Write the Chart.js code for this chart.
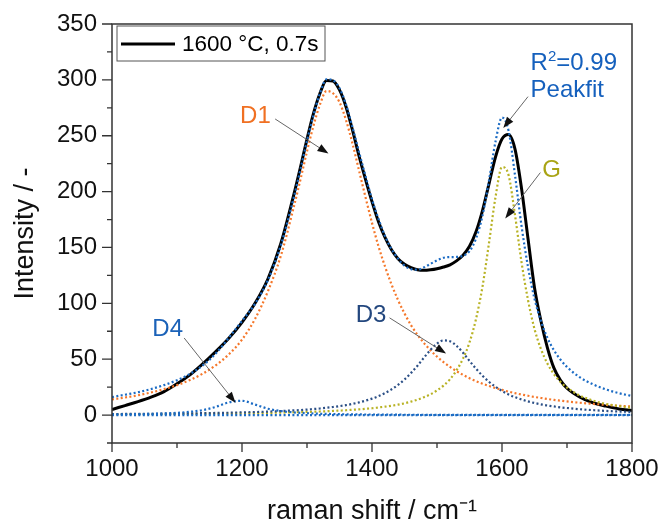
<!DOCTYPE html>
<html>
<head>
<meta charset="utf-8">
<title>Raman spectrum peak fit</title>
<script src="https://cdn.jsdelivr.net/npm/chart.js@4.4.1/dist/chart.umd.min.js"></script>
<style>
  html, body { margin: 0; padding: 0; background: #fff; }
  #chart { display: block; }
</style>
</head>
<body>
<canvas id="chart" width="662" height="525"></canvas>
<script>
// raman shift positions (cm-1)
const ramanShift = [
  1000, 1020, 1040, 1060, 1080, 1100, 1120, 1140, 1160, 1180, 1200, 1220, 1240, 1260, 1280,
  1290, 1300, 1310, 1320, 1330, 1340, 1350, 1360, 1370, 1380, 1390, 1400, 1410, 1420, 1430,
  1440, 1450, 1460, 1470, 1480, 1490, 1500, 1510, 1520, 1530, 1540, 1550, 1560, 1570, 1580,
  1590, 1600, 1610, 1620, 1630, 1640, 1650, 1660, 1670, 1680, 1690, 1700,
  1720, 1740, 1760, 1780, 1800
];

// measured spectrum, 1600 °C, 0.7s
const measured = [
  5, 8.5, 12, 16, 21, 28, 36, 46, 57, 69, 83, 100, 122, 154, 198,
  222, 247, 270, 288, 299.5, 299, 291, 276, 255, 232, 211, 191, 173, 159, 148,
  140, 135, 132, 130, 129.5, 130, 131, 132.5, 134.5, 138, 143, 151, 164, 183, 207,
  231, 247, 251, 238, 203, 158, 114, 84, 60, 42, 31, 24,
  16, 11, 8, 5.5, 4
];

// sum of fitted bands
const peakFit = [
  16.1, 18.2, 20.4, 23.3, 26.8, 31.2, 36.9, 44.6, 55.3, 69.4, 84.3, 99.5, 121, 152.5, 195.5,
  220, 245.5, 268.5, 288, 300.5, 299.5, 292.5, 278, 257.5, 235.5, 214, 193, 175.5, 160.2, 148.6,
  140, 133.8, 130.6, 130.1, 132.2, 135.3, 138.5, 140.8, 141.4, 141.5, 142.5, 146.7, 158, 178.5, 210,
  244.7, 266.3, 254.7, 214.7, 169.5, 132.6, 104.1, 84, 69, 57.9, 49.6, 43.1,
  33.7, 27.5, 22.9, 19.6, 17
];

const bandD1 = [
  14, 15.7, 17.7, 20.2, 23.2, 26.8, 31.4, 37.2, 44.7, 54.5, 67.5, 86, 111, 143, 187,
  211, 236, 259, 278, 290, 288, 280, 264, 243, 219, 195, 172, 151, 133, 117,
  103, 91, 80.5, 71.8, 64.4, 58, 52.3, 47.4, 43.1, 39.3, 36, 33, 30.4, 28.1, 26,
  24.2, 22.5, 21, 19.6, 18.4, 17.3, 16.2, 15.3, 14.4, 13.6, 12.9, 12.2,
  11, 10, 9.1, 8.3, 7.6
];

const bandD3 = [
  0.9, 1, 1.05, 1.15, 1.25, 1.4, 1.5, 1.7, 1.9, 2.1, 2.4, 2.7, 3.1, 3.6, 4.2,
  4.5, 4.9, 5.4, 5.9, 6.5, 7.2, 8, 8.9, 10, 11.3, 12.9, 14.7, 17, 19.7, 23,
  27, 31.9, 37.6, 44.2, 51.4, 58.4, 64, 66.8, 66.1, 62, 55.8, 48.5, 41.5, 35.2, 29.8,
  25.3, 21.6, 18.5, 16, 14, 12.2, 10.8, 9.6, 8.5, 7.7, 6.9, 6.3,
  5.2, 4.4, 3.7, 3.2, 2.8
];

const bandD4 = [
  0.5, 0.7, 0.8, 1.1, 1.4, 2, 2.9, 4.5, 7.4, 11.4, 12.8, 9.4, 5.7, 3.6, 2.4,
  2, 1.7, 1.4, 1.2, 1.05, 0.9, 0.8, 0.7, 0.65, 0.6, 0.5, 0.5, 0.45, 0.4, 0.4,
  0.35, 0.3, 0.3, 0.3, 0.25, 0.25, 0.2, 0.2, 0.2, 0.2, 0.2, 0.2, 0.15, 0.15, 0.15,
  0.15, 0.15, 0.1, 0.1, 0.1, 0.1, 0.1, 0.1, 0.1, 0.1, 0.1, 0.1,
  0.1, 0.1, 0.1, 0.1, 0.1
];

const bandG = [
  0.7, 0.76, 0.8, 0.87, 0.94, 1, 1.1, 1.2, 1.3, 1.4, 1.6, 1.75, 1.95, 2.2, 2.5,
  2.6, 2.8, 3, 3.2, 3.4, 3.7, 4, 4.3, 4.7, 5.1, 5.6, 6.1, 6.8, 7.5, 8.3,
  9.3, 10.5, 12, 13.8, 16, 18.6, 22, 26.4, 32, 40, 50.5, 65, 86, 115, 154,
  195, 222, 215, 179, 137, 103, 77, 59, 46, 36.5, 29.7, 24.5,
  17.4, 13, 10, 8, 6.5
];

// flat fit baseline
const baselineShift = [1000, 1800];
const baselineValue = [0, 0];

// axis ticks
const xTickLabels = [1000, 1200, 1400, 1600, 1800];
const yTickLabels = [0, 50, 100, 150, 200, 250, 300, 350];

// text labels with arrows: [text, colour, textX, textY, arrowFromX, arrowFromY, arrowToX, arrowToY]
const bandLabels = [
  ['D1', '#F07022', 1197, 261, 1251, 265, 1333, 234],
  ['D4', '#1B62B8', 1062, 71, 1111, 69, 1190, 11],
  ['D3', '#23477E', 1375, 83, 1427, 87, 1514, 55],
  ['G', '#A9A415', 1662, 213, 1659, 217, 1605, 176],
  ['Peakfit', '#1560BD', 1644, 285, 1640, 285, 1602, 257]
];

const pointsOf = (xs, ys) => xs.map((x, i) => ({ x: x, y: ys[i] }));

const fontFamily = '"Liberation Sans", Arial, sans-serif';

function dotted(label, xs, ys, color) {
  return {
    label: label,
    data: pointsOf(xs, ys),
    borderColor: color,
    borderWidth: 2.2,
    borderDash: [2, 2.4],
    pointRadius: 0,
    fill: false,
    cubicInterpolationMode: 'monotone'
  };
}

// frame, ticks of two lengths and the inner legend
const framePlugin = {
  id: 'frame',
  afterDraw(chart) {
    const { ctx, chartArea: a, scales } = chart;
    ctx.save();
    ctx.strokeStyle = '#333';
    ctx.lineWidth = 1.5;
    ctx.strokeRect(a.left, a.top, a.right - a.left, a.bottom - a.top);

    ctx.lineWidth = 1.3;
    ctx.beginPath();
    scales.x.ticks.forEach(t => {
      const px = scales.x.getPixelForValue(t.value);
      const len = xTickLabels.includes(t.value) ? 9 : 5;
      ctx.moveTo(px, a.bottom);
      ctx.lineTo(px, a.bottom + len);
    });
    scales.y.ticks.forEach(t => {
      const py = scales.y.getPixelForValue(t.value);
      const len = yTickLabels.includes(t.value) ? 10 : 5;
      ctx.moveTo(a.left, py);
      ctx.lineTo(a.left - len, py);
    });
    ctx.stroke();

    // legend box
    const ds = chart.data.datasets[chart.data.datasets.length - 1];
    const lx = a.left + 5, ly = a.top + 2;
    ctx.fillStyle = '#fff';
    ctx.fillRect(lx, ly, 208, 35);
    ctx.strokeStyle = '#555';
    ctx.lineWidth = 1;
    ctx.strokeRect(lx, ly, 208, 35);
    ctx.strokeStyle = ds.borderColor;
    ctx.lineWidth = ds.borderWidth;
    ctx.beginPath();
    ctx.moveTo(lx + 4, ly + 18);
    ctx.lineTo(lx + 58, ly + 18);
    ctx.stroke();
    ctx.fillStyle = '#000';
    ctx.font = '22.5px ' + fontFamily;
    ctx.textBaseline = 'middle';
    ctx.fillText(ds.label, lx + 65, ly + 19);
    ctx.restore();
  }
};

// band names and arrows
const labelPlugin = {
  id: 'bandLabels',
  afterDraw(chart) {
    const { ctx, scales } = chart;
    ctx.save();
    ctx.font = '24px ' + fontFamily;
    ctx.textBaseline = 'alphabetic';
    bandLabels.forEach(([text, color, tx, ty, fx, fy, ex, ey]) => {
      const x = scales.x.getPixelForValue(tx), y = scales.y.getPixelForValue(ty);
      ctx.fillStyle = color;
      ctx.fillText(text, x, y);
      if (text === 'Peakfit') {
        // R²=0.99 above the Peakfit label
        const y2 = y - 27;
        ctx.fillText('R', x, y2);
        let w = ctx.measureText('R').width;
        ctx.font = '15px ' + fontFamily;
        ctx.fillText('2', x + w, y2 - 9);
        w += ctx.measureText('2').width;
        ctx.font = '24px ' + fontFamily;
        ctx.fillText('=0.99', x + w, y2);
      }
      const x1 = scales.x.getPixelForValue(fx), y1 = scales.y.getPixelForValue(fy);
      const x2 = scales.x.getPixelForValue(ex), y2 = scales.y.getPixelForValue(ey);
      const ang = Math.atan2(y2 - y1, x2 - x1);
      ctx.strokeStyle = '#666';
      ctx.lineWidth = 1;
      ctx.beginPath();
      ctx.moveTo(x1, y1);
      ctx.lineTo(x2 - 8 * Math.cos(ang), y2 - 8 * Math.sin(ang));
      ctx.stroke();
      ctx.fillStyle = '#111';
      ctx.beginPath();
      ctx.moveTo(x2, y2);
      ctx.lineTo(x2 - 11 * Math.cos(ang) + 4 * Math.sin(ang), y2 - 11 * Math.sin(ang) - 4 * Math.cos(ang));
      ctx.lineTo(x2 - 11 * Math.cos(ang) - 4 * Math.sin(ang), y2 - 11 * Math.sin(ang) + 4 * Math.cos(ang));
      ctx.closePath();
      ctx.fill();
    });
    ctx.restore();
  }
};

const blue = '#1B6BC4';

new Chart(document.getElementById('chart').getContext('2d'), {
  type: 'line',
  data: {
    datasets: [
      dotted('Baseline', baselineShift, baselineValue, blue),
      dotted('D4', ramanShift, bandD4, blue),
      dotted('D3', ramanShift, bandD3, '#2B4F86'),
      dotted('G', ramanShift, bandG, '#B8B224'),
      dotted('D1', ramanShift, bandD1, '#F5772A'),
      dotted('Peakfit', ramanShift, peakFit, blue),
      {
        label: '1600 °C, 0.7s',
        data: pointsOf(ramanShift, measured),
        borderColor: '#000',
        borderWidth: 3,
        pointRadius: 0,
        fill: false,
        cubicInterpolationMode: 'monotone'
      }
    ]
  },
  options: {
    responsive: false,
    animation: false,
    layout: { padding: { top: 24, right: 30, left: 0, bottom: 0 } },
    plugins: {
      legend: { display: false },
      tooltip: { enabled: false }
    },
    scales: {
      x: {
        type: 'linear',
        min: 1000,
        max: 1800,
        afterFit: s => { s.height = 82; },
        border: { display: false },
        grid: { drawOnChartArea: false, drawTicks: true, tickLength: 9, color: 'rgba(0,0,0,0)' },
        ticks: {
          stepSize: 100,
          autoSkip: false,
          maxRotation: 0,
          padding: 3,
          color: '#111',
          font: { family: fontFamily, size: 24 },
          callback: v => xTickLabels.includes(v) ? String(v) : ''
        },
        title: {
          display: true,
          text: 'raman shift / cm⁻¹',
          color: '#111',
          padding: 0,
          font: { family: fontFamily, size: 27, lineHeight: 1 }
        }
      },
      y: {
        min: -25,
        max: 350,
        afterFit: s => { s.width = 112; },
        border: { display: false },
        grid: { drawOnChartArea: false, drawTicks: true, tickLength: 10, color: 'rgba(0,0,0,0)' },
        ticks: {
          stepSize: 25,
          autoSkip: false,
          padding: 5,
          color: '#111',
          font: { family: fontFamily, size: 24 },
          callback: v => yTickLabels.includes(v) ? String(v) : ''
        },
        title: {
          display: true,
          text: 'Intensity / -',
          color: '#111',
          padding: { top: 12, bottom: 0 },
          font: { family: fontFamily, size: 27, lineHeight: 1 }
        }
      }
    }
  },
  plugins: [framePlugin, labelPlugin]
});
</script>
</body>
</html>
